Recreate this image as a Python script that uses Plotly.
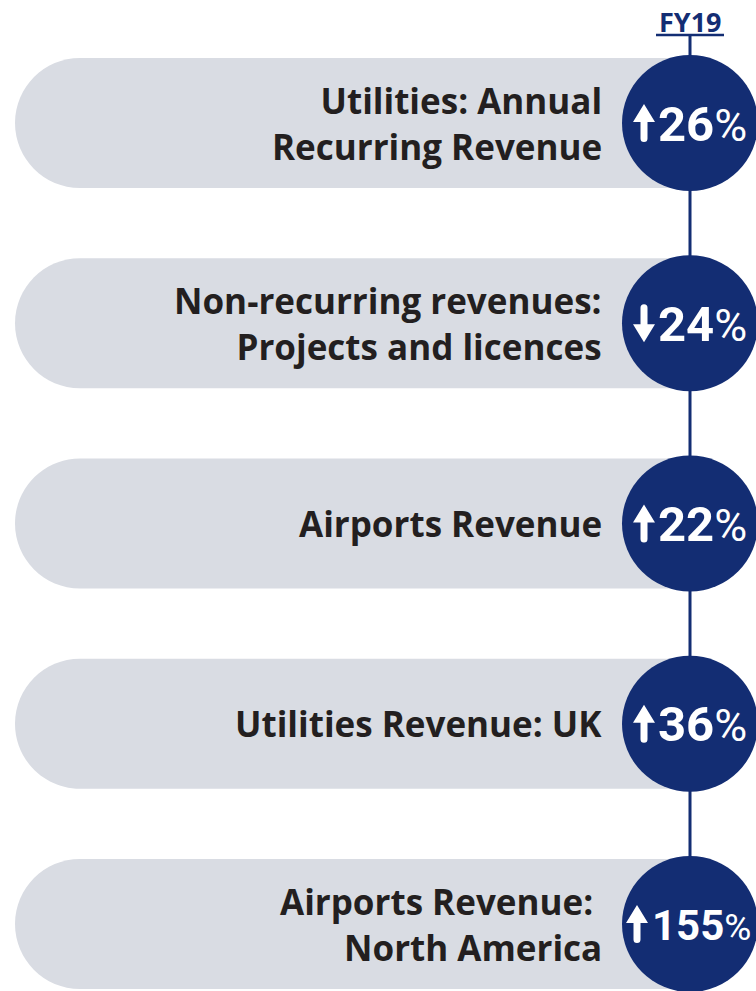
import plotly.graph_objects as go

labels = [
    "Utilities: Annual<br>Recurring Revenue",
    "Non-recurring revenues:<br>Projects and licences",
    "Airports Revenue",
    "Utilities Revenue: UK",
    "Airports Revenue: <br>North America",
]
changes = [26, -24, 22, 36, 155]
header = "FY19"

NAVY = "#132d73"
GREY = "#d9dce3"
TEXT = "#231f20"

W, H = 756, 991
cx = 690
r_c = 68
r_p = 65
pill_left = 15
centers = [123 + 200.25 * i for i in range(len(labels))]

fig = go.Figure()
shapes = []
annotations = []

k = 0.5523
for cy in centers:
    top, bot = cy - r_p, cy + r_p
    lx = pill_left + r_p
    path = (f"M {cx},{top} L {lx},{top} "
            f"C {lx - k*r_p},{top} {pill_left},{cy - k*r_p} {pill_left},{cy} "
            f"C {pill_left},{cy + k*r_p} {lx - k*r_p},{bot} {lx},{bot} "
            f"L {cx},{bot} Z")
    shapes.append(dict(type="path", path=path, fillcolor=GREY, line=dict(width=0), layer="below"))

# vertical connector
shapes.append(dict(type="line", x0=cx, x1=cx, y0=35, y1=centers[-1], line=dict(color=NAVY, width=3), layer="below"))
# header underline
shapes.append(dict(type="line", x0=656, x1=724, y0=35, y1=35, line=dict(color=NAVY, width=2.5), layer="below"))

fig.add_trace(go.Scatter(
    x=[cx] * len(centers), y=centers, mode="markers",
    marker=dict(size=2 * r_c, color=NAVY, line=dict(width=0)),
    hoverinfo="skip", showlegend=False,
))

for lab, ch, cy in zip(labels, changes, centers):
    annotations.append(dict(
        x=604, y=cy, xref="x", yref="y", text=f"<b>{lab}</b>",
        showarrow=False, xanchor="right", yanchor="middle", align="right",
        font=dict(family="Open Sans", size=35, color=TEXT),
    ))
    big = abs(ch) >= 100
    dsize = 42 if big else 49
    psize = 37 if big else 45
    annotations.append(dict(
        x=650 if big else 656, y=cy + 1, xref="x", yref="y",
        text=f"<b>{abs(ch)}</b><span style='font-size:{psize}px'>%</span>",
        showarrow=False, xanchor="left", yanchor="middle",
        font=dict(family="Roboto", size=dsize, color="white"),
    ))
    # arrow
    ax = 637 if big else 644
    hw = 11
    sw = 3.5
    hh = 18
    t, b = cy - 19, cy + 19
    if ch >= 0:
        p = (f"M {ax},{t} L {ax+hw},{t+hh} L {ax+sw},{t+hh} L {ax+sw},{b-sw} "
             f"Q {ax+sw},{b} {ax},{b} Q {ax-sw},{b} {ax-sw},{b-sw} "
             f"L {ax-sw},{t+hh} L {ax-hw},{t+hh} Z")
    else:
        p = (f"M {ax},{b} L {ax+hw},{b-hh} L {ax+sw},{b-hh} L {ax+sw},{t+sw} "
             f"Q {ax+sw},{t} {ax},{t} Q {ax-sw},{t} {ax-sw},{t+sw} "
             f"L {ax-sw},{b-hh} L {ax-hw},{b-hh} Z")
    shapes.append(dict(type="path", path=p, fillcolor="white", line=dict(width=0), layer="above"))

annotations.append(dict(
    x=cx, y=21, xref="x", yref="y", text=f"<b>{header}</b>", showarrow=False,
    xanchor="center", yanchor="middle",
    font=dict(family="Open Sans", size=27, color=NAVY),
))

fig.update_layout(
    width=W, height=H, margin=dict(l=0, r=0, t=0, b=0),
    paper_bgcolor="white", plot_bgcolor="white",
    xaxis=dict(range=[0, W], visible=False, fixedrange=True),
    yaxis=dict(range=[H, 0], visible=False, fixedrange=True),
    shapes=shapes, annotations=annotations, showlegend=False,
)
fig.write_html(
    "out.html",
    config={"displayModeBar": False},
    post_script="document.body.style.margin='0';document.body.style.overflow='hidden';",
)
